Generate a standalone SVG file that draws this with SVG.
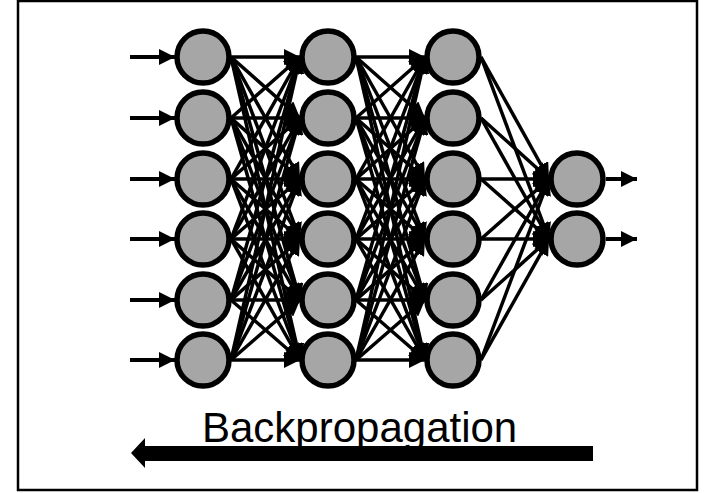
<svg xmlns="http://www.w3.org/2000/svg" width="705" height="493" viewBox="0 0 705 493">
  <style>
    .node circle { fill: #a6a6a6; stroke: #000; stroke-width: 5.5; }
    .edge { stroke: #000; stroke-width: 3.5; fill: none; marker-end: url(#head); }
    .io { stroke: #000; stroke-width: 4; fill: none; marker-end: url(#head); }
    .label { font-family: "Liberation Sans", Arial, sans-serif; font-size: 42px; fill: #000; }
  </style>
  <defs>
    <marker id="head" markerUnits="userSpaceOnUse" markerWidth="16" markerHeight="16" refX="16" refY="8" orient="auto">
      <path d="M0,0 L16,8 L0,16 z" fill="#000"/>
    </marker>
  </defs>

  <!-- frame -->
  <rect x="18" y="1" width="679" height="489" fill="#fff" stroke="#000" stroke-width="2.5"/>

  <g id="connectors">
    <!-- inputs -->
    <line class="io" x1="130" y1="57" x2="175" y2="57"/>
    <line class="io" x1="130" y1="118" x2="175" y2="118"/>
    <line class="io" x1="130" y1="179" x2="175" y2="179"/>
    <line class="io" x1="130" y1="239" x2="175" y2="239"/>
    <line class="io" x1="130" y1="300" x2="175" y2="300"/>
    <line class="io" x1="130" y1="360" x2="175" y2="360"/>

    <!-- layer 1 to layer 2 -->
    <line class="edge" x1="231" y1="57" x2="300" y2="57"/>
    <line class="edge" x1="231" y1="57" x2="300" y2="118"/>
    <line class="edge" x1="231" y1="57" x2="300" y2="179"/>
    <line class="edge" x1="231" y1="57" x2="300" y2="239"/>
    <line class="edge" x1="231" y1="57" x2="300" y2="300"/>
    <line class="edge" x1="231" y1="57" x2="300" y2="360"/>
    <line class="edge" x1="231" y1="118" x2="300" y2="57"/>
    <line class="edge" x1="231" y1="118" x2="300" y2="118"/>
    <line class="edge" x1="231" y1="118" x2="300" y2="179"/>
    <line class="edge" x1="231" y1="118" x2="300" y2="239"/>
    <line class="edge" x1="231" y1="118" x2="300" y2="300"/>
    <line class="edge" x1="231" y1="118" x2="300" y2="360"/>
    <line class="edge" x1="231" y1="179" x2="300" y2="57"/>
    <line class="edge" x1="231" y1="179" x2="300" y2="118"/>
    <line class="edge" x1="231" y1="179" x2="300" y2="179"/>
    <line class="edge" x1="231" y1="179" x2="300" y2="239"/>
    <line class="edge" x1="231" y1="179" x2="300" y2="300"/>
    <line class="edge" x1="231" y1="179" x2="300" y2="360"/>
    <line class="edge" x1="231" y1="239" x2="300" y2="57"/>
    <line class="edge" x1="231" y1="239" x2="300" y2="118"/>
    <line class="edge" x1="231" y1="239" x2="300" y2="179"/>
    <line class="edge" x1="231" y1="239" x2="300" y2="239"/>
    <line class="edge" x1="231" y1="239" x2="300" y2="300"/>
    <line class="edge" x1="231" y1="239" x2="300" y2="360"/>
    <line class="edge" x1="231" y1="300" x2="300" y2="57"/>
    <line class="edge" x1="231" y1="300" x2="300" y2="118"/>
    <line class="edge" x1="231" y1="300" x2="300" y2="179"/>
    <line class="edge" x1="231" y1="300" x2="300" y2="239"/>
    <line class="edge" x1="231" y1="300" x2="300" y2="300"/>
    <line class="edge" x1="231" y1="300" x2="300" y2="360"/>
    <line class="edge" x1="231" y1="360" x2="300" y2="57"/>
    <line class="edge" x1="231" y1="360" x2="300" y2="118"/>
    <line class="edge" x1="231" y1="360" x2="300" y2="179"/>
    <line class="edge" x1="231" y1="360" x2="300" y2="239"/>
    <line class="edge" x1="231" y1="360" x2="300" y2="300"/>
    <line class="edge" x1="231" y1="360" x2="300" y2="360"/>

    <!-- layer 2 to layer 3 -->
    <line class="edge" x1="356" y1="57" x2="425" y2="57"/>
    <line class="edge" x1="356" y1="57" x2="425" y2="118"/>
    <line class="edge" x1="356" y1="57" x2="425" y2="179"/>
    <line class="edge" x1="356" y1="57" x2="425" y2="239"/>
    <line class="edge" x1="356" y1="57" x2="425" y2="300"/>
    <line class="edge" x1="356" y1="57" x2="425" y2="360"/>
    <line class="edge" x1="356" y1="118" x2="425" y2="57"/>
    <line class="edge" x1="356" y1="118" x2="425" y2="118"/>
    <line class="edge" x1="356" y1="118" x2="425" y2="179"/>
    <line class="edge" x1="356" y1="118" x2="425" y2="239"/>
    <line class="edge" x1="356" y1="118" x2="425" y2="300"/>
    <line class="edge" x1="356" y1="118" x2="425" y2="360"/>
    <line class="edge" x1="356" y1="179" x2="425" y2="57"/>
    <line class="edge" x1="356" y1="179" x2="425" y2="118"/>
    <line class="edge" x1="356" y1="179" x2="425" y2="179"/>
    <line class="edge" x1="356" y1="179" x2="425" y2="239"/>
    <line class="edge" x1="356" y1="179" x2="425" y2="300"/>
    <line class="edge" x1="356" y1="179" x2="425" y2="360"/>
    <line class="edge" x1="356" y1="239" x2="425" y2="57"/>
    <line class="edge" x1="356" y1="239" x2="425" y2="118"/>
    <line class="edge" x1="356" y1="239" x2="425" y2="179"/>
    <line class="edge" x1="356" y1="239" x2="425" y2="239"/>
    <line class="edge" x1="356" y1="239" x2="425" y2="300"/>
    <line class="edge" x1="356" y1="239" x2="425" y2="360"/>
    <line class="edge" x1="356" y1="300" x2="425" y2="57"/>
    <line class="edge" x1="356" y1="300" x2="425" y2="118"/>
    <line class="edge" x1="356" y1="300" x2="425" y2="179"/>
    <line class="edge" x1="356" y1="300" x2="425" y2="239"/>
    <line class="edge" x1="356" y1="300" x2="425" y2="300"/>
    <line class="edge" x1="356" y1="300" x2="425" y2="360"/>
    <line class="edge" x1="356" y1="360" x2="425" y2="57"/>
    <line class="edge" x1="356" y1="360" x2="425" y2="118"/>
    <line class="edge" x1="356" y1="360" x2="425" y2="179"/>
    <line class="edge" x1="356" y1="360" x2="425" y2="239"/>
    <line class="edge" x1="356" y1="360" x2="425" y2="300"/>
    <line class="edge" x1="356" y1="360" x2="425" y2="360"/>

    <!-- layer 3 to output -->
    <line class="edge" x1="481" y1="57" x2="549" y2="179"/>
    <line class="edge" x1="481" y1="57" x2="549" y2="239"/>
    <line class="edge" x1="481" y1="118" x2="549" y2="179"/>
    <line class="edge" x1="481" y1="118" x2="549" y2="239"/>
    <line class="edge" x1="481" y1="179" x2="549" y2="179"/>
    <line class="edge" x1="481" y1="179" x2="549" y2="239"/>
    <line class="edge" x1="481" y1="239" x2="549" y2="179"/>
    <line class="edge" x1="481" y1="239" x2="549" y2="239"/>
    <line class="edge" x1="481" y1="300" x2="549" y2="179"/>
    <line class="edge" x1="481" y1="300" x2="549" y2="239"/>
    <line class="edge" x1="481" y1="360" x2="549" y2="179"/>
    <line class="edge" x1="481" y1="360" x2="549" y2="239"/>

    <!-- outputs -->
    <line class="io" x1="606" y1="179" x2="637" y2="179"/>
    <line class="io" x1="606" y1="239" x2="637" y2="239"/>
  </g>

  <!-- input layer -->
  <g id="n1-1" class="node"><circle cx="203" cy="57" r="26"/></g>
  <g id="n1-2" class="node"><circle cx="203" cy="118" r="26"/></g>
  <g id="n1-3" class="node"><circle cx="203" cy="179" r="26"/></g>
  <g id="n1-4" class="node"><circle cx="203" cy="239" r="26"/></g>
  <g id="n1-5" class="node"><circle cx="203" cy="300" r="26"/></g>
  <g id="n1-6" class="node"><circle cx="203" cy="360" r="26"/></g>

  <!-- hidden layer 1 -->
  <g id="n2-1" class="node"><circle cx="328" cy="57" r="26"/></g>
  <g id="n2-2" class="node"><circle cx="328" cy="118" r="26"/></g>
  <g id="n2-3" class="node"><circle cx="328" cy="179" r="26"/></g>
  <g id="n2-4" class="node"><circle cx="328" cy="239" r="26"/></g>
  <g id="n2-5" class="node"><circle cx="328" cy="300" r="26"/></g>
  <g id="n2-6" class="node"><circle cx="328" cy="360" r="26"/></g>

  <!-- hidden layer 2 -->
  <g id="n3-1" class="node"><circle cx="453" cy="57" r="26"/></g>
  <g id="n3-2" class="node"><circle cx="453" cy="118" r="26"/></g>
  <g id="n3-3" class="node"><circle cx="453" cy="179" r="26"/></g>
  <g id="n3-4" class="node"><circle cx="453" cy="239" r="26"/></g>
  <g id="n3-5" class="node"><circle cx="453" cy="300" r="26"/></g>
  <g id="n3-6" class="node"><circle cx="453" cy="360" r="26"/></g>

  <!-- output layer -->
  <g id="n4-1" class="node"><circle cx="577" cy="179" r="26"/></g>
  <g id="n4-2" class="node"><circle cx="577" cy="239" r="26"/></g>

  <!-- backward pass arrow and caption -->
  <g id="backprop">
    <polygon points="131,453 145,438 145,446 593,446 593,461 145,461 145,468" fill="#000"/>
    <text class="label" x="202" y="442">Backpropagation</text>
  </g>
</svg>
